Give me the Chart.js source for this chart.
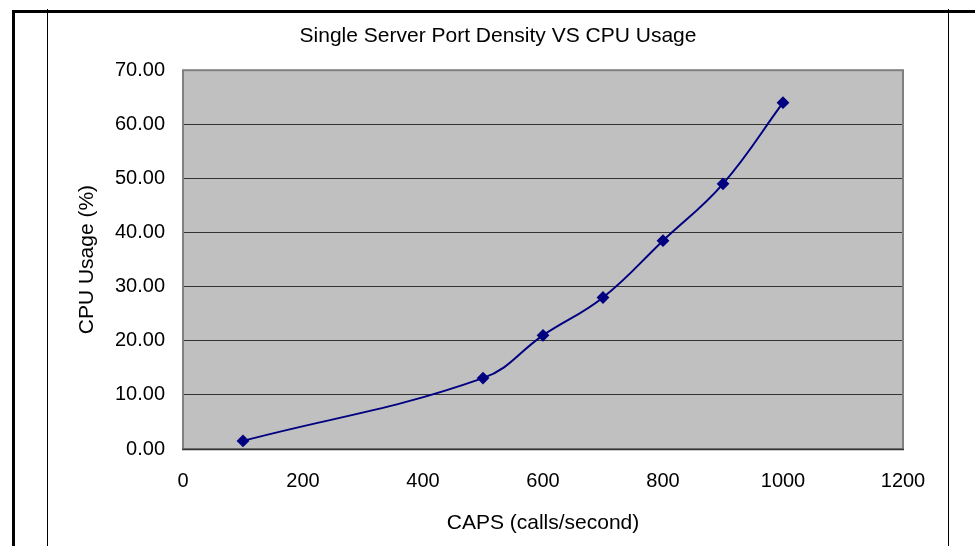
<!DOCTYPE html>
<html>
<head>
<meta charset="utf-8">
<script src="https://cdn.jsdelivr.net/npm/chart.js@4"></script>
<style>
  body { margin: 0; background: #fff; }
  #page { position: relative; width: 975px; height: 546px; overflow: hidden; }
  .rule { position: absolute; background: #000; }
  #wrap { position: absolute; left: 48px; top: 0; width: 900px; height: 546px; }
</style>
</head>
<body>
<div id="page">
  <div class="rule" style="left:12px;top:10px;width:963px;height:3px"></div>
  <div class="rule" style="left:12px;top:10px;width:3px;height:536px"></div>
  <div class="rule" style="left:47px;top:9px;width:1px;height:537px"></div>
  <div class="rule" style="left:948px;top:9px;width:1px;height:537px"></div>
  <div id="wrap"><canvas id="cpu"></canvas></div>
</div>
<script>
// values
var caps = [100, 500, 600, 700, 800, 900, 1000];
var cpuUsage = [1.5, 13.1, 21.0, 28.0, 38.5, 49.0, 64.0];

// grey plot background + border
var plotBox = {
  id: 'plotBox',
  beforeDraw: function(chart) {
    var a = chart.chartArea, ctx = chart.ctx;
    ctx.save();
    ctx.fillStyle = '#c0c0c0';
    ctx.fillRect(a.left, a.top, a.right - a.left, a.bottom - a.top);
    ctx.restore();
  },
  afterDatasetsDraw: function(chart) {
    var a = chart.chartArea, ctx = chart.ctx;
    ctx.save();
    ctx.strokeStyle = '#808080';
    ctx.lineWidth = 2;
    ctx.strokeRect(a.left, a.top, a.right - a.left, a.bottom - a.top);
    ctx.strokeStyle = '#333';
    ctx.lineWidth = 1.5;
    ctx.beginPath();
    ctx.moveTo(a.left - 1, a.bottom + 0.5);
    ctx.lineTo(a.right + 1, a.bottom + 0.5);
    ctx.stroke();
    ctx.restore();
  }
};

Chart.defaults.font.family = '"Liberation Sans", Arial, sans-serif';
Chart.defaults.color = '#000';

var chart = new Chart('cpu', {
  type: 'line',
  data: {
    datasets: [{
      label: 'CPU Usage',
      data: caps.map(function(c, i) { return {x: c, y: cpuUsage[i]}; }),
      borderColor: '#000080',
      backgroundColor: '#000080',
      borderWidth: 2,
      pointStyle: 'rectRot',
      pointRadius: 5,
      pointHoverRadius: 5,
      fill: false,
      tension: 0.4
    }]
  },
  options: {
    responsive: true,
    maintainAspectRatio: false,
    animation: false,
    layout: { padding: 0 },
    plugins: {
      legend: { display: false },
      tooltip: { enabled: false },
      title: {
        display: true,
        text: 'Single Server Port Density VS CPU Usage',
        font: { size: 21, weight: 'normal' },
        padding: { top: 24, bottom: 21 }
      }
    },
    scales: {
      x: {
        type: 'linear',
        min: 0, max: 1200,
        ticks: {
          stepSize: 200, padding: 20, font: { size: 20 },
          callback: function(v) { return String(v); }
        },
        grid: { display: false, drawTicks: false },
        border: { display: false },
        title: {
          display: true,
          text: 'CAPS (calls/second)',
          font: { size: 21 },
          padding: { top: 0, bottom: 10 }
        },
        afterFit: function(s) { s.height = 97; }
      },
      y: {
        min: 0, max: 70,
        ticks: {
          stepSize: 10, padding: 18, font: { size: 20 },
          callback: function(v) { return v.toFixed(2); }
        },
        grid: { color: '#333', lineWidth: 1, drawTicks: false },
        border: { display: false },
        title: {
          display: true,
          text: 'CPU Usage (%)',
          font: { size: 21 },
          padding: { top: 27, bottom: 0 }
        },
        afterFit: function(s) { s.width = 135; }
      },
      // empty right-hand margin so the title centres on the whole frame
      spacer: {
        type: 'linear',
        position: 'right',
        ticks: { display: false },
        grid: { display: false },
        border: { display: false },
        afterFit: function(s) { s.width = 45; }
      }
    }
  },
  plugins: [plotBox]
});
</script>
</body>
</html>
